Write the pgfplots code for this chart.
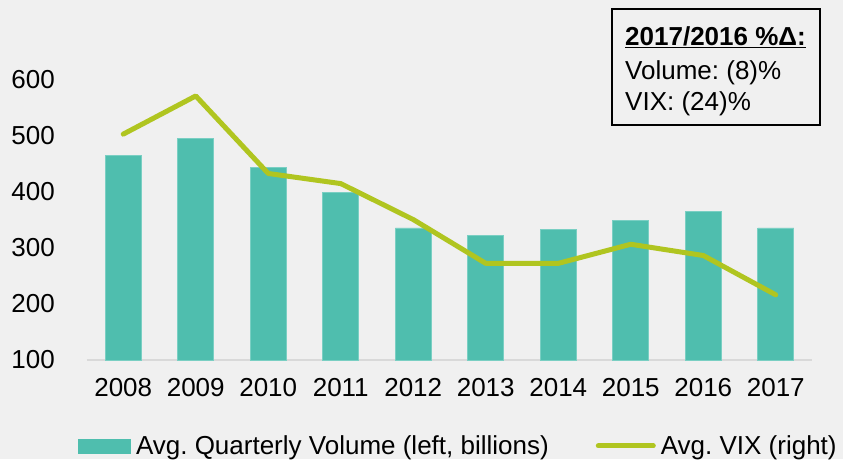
\documentclass[border=0pt]{standalone}
\usepackage{fontspec}
\setmainfont{Liberation Sans}
\usepackage{pgfplots}
\pgfplotsset{compat=1.18}
\definecolor{bgc}{HTML}{F0F0F0}
\definecolor{barc}{HTML}{4FBEAE}
\definecolor{barline}{HTML}{7ACFC3}
\definecolor{vixc}{HTML}{B0C520}
\definecolor{basec}{HTML}{D9D9D9}
\newcommand{\bigfont}{\fontsize{26}{30}\selectfont}

\begin{document}
\frenchspacing
\begin{tikzpicture}
\fill[bgc] (-87pt,-99pt) rectangle (756pt,360pt);
\begin{axis}[
    width=725pt, height=309pt, scale only axis,
    xmin=-0.5, xmax=9.5, ymin=100, ymax=650,
    axis x line*=bottom, axis y line*=left,
    x axis line style={basec, line width=2pt, -},
    y axis line style={draw=none},
    major tick length=0pt, tick style={draw=none},
    ytick={100,200,300,400,500,600},
    xtick={0,...,9},
    xticklabels={2008,2009,2010,2011,2012,2013,2014,2015,2016,2017},
    tick label style={font=\bigfont},
    /pgf/number format/assume math mode=true,
    xticklabel style={inner sep=0pt, anchor=north, yshift=-18pt},
    yticklabel style={inner sep=0pt, anchor=east, xshift=-32pt},
    ybar, bar width=36pt,
    legend columns=2,
    legend style={at={(-0.0124,-0.278)}, anchor=west, draw=none, fill=none,
        inner sep=0pt, font=\bigfont,
        nodes={inner sep=0pt},
        /tikz/every odd column/.append style={column sep=5pt},
        /tikz/every even column/.append style={column sep=47pt}},
]
\addplot[fill=barc, draw=barline, line width=0.8pt,
    legend image code/.code={\fill[barc] (0pt,-7pt) rectangle (52pt,7pt);}]
    coordinates {(0,464) (1,495) (2,442) (3,399) (4,335) (5,321) (6,333) (7,349) (8,364) (9,335)};
\addlegendentry{Avg. Quarterly Volume (left, billions)}
\addlegendimage{legend image code/.code={\draw[vixc, line width=5pt, line cap=round] (0pt,0pt) -- (55pt,0pt);}}
\addlegendentry{Avg. VIX (right)}
\end{axis}
\begin{axis}[
    width=725pt, height=309pt, scale only axis,
    xmin=-0.5, xmax=9.5, ymin=5, ymax=32.5,
    hide axis,
]
\addplot[vixc, line width=5pt, line cap=round, line join=round]
    coordinates {(0,25.1) (1,28.5) (2,21.6) (3,20.7) (4,17.5) (5,13.6) (6,13.6) (7,15.3) (8,14.3) (9,10.8)};
\end{axis}
\draw[black, line width=1.3pt] (525pt,235pt) rectangle (733pt,351pt);
\node[anchor=base west, inner sep=0pt, font=\bigfont\bfseries] at (538pt,315pt) {\underline{2017/2016 \%Δ:}};
\node[anchor=base west, inner sep=0pt, font=\bigfont] at (538pt,281pt) {Volume: (8)\%};
\node[anchor=base west, inner sep=0pt, font=\bigfont] at (538pt,250pt) {VIX: (24)\%};
\pgfresetboundingbox
\path[use as bounding box] (-87pt,-99pt) rectangle (756pt,360pt);
\end{tikzpicture}
\end{document}
